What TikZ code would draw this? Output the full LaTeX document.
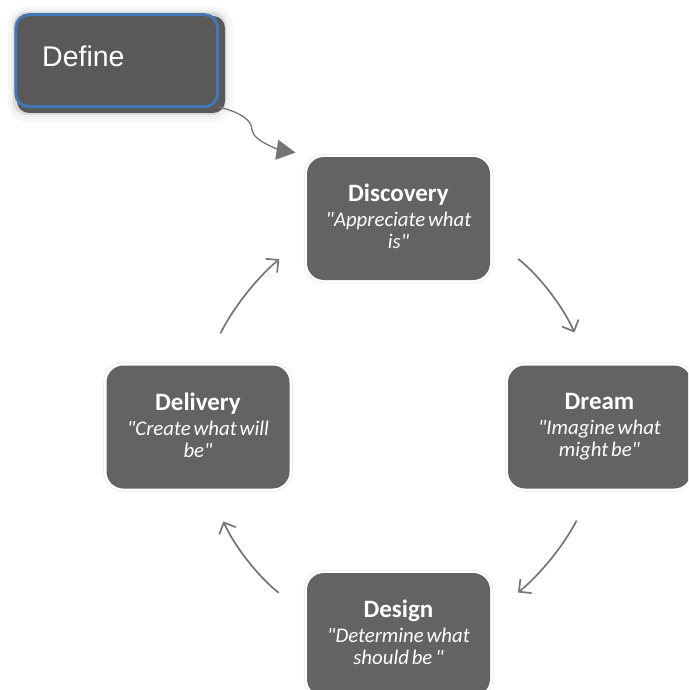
\documentclass[tikz,border=0pt]{standalone}
\usepackage{fontspec}
\newfontfamily\stagefont[WordSpace=0.6]{Carlito}
\newfontfamily\arialfont{Liberation Sans}
\usetikzlibrary{arrows.meta,calc}
\definecolor{boxgray}{HTML}{636363}
\definecolor{defgray}{HTML}{595959}
\definecolor{arrowgray}{HTML}{757575}
\definecolor{defblue}{HTML}{4478B4}
\tikzset{
  x=1pt,y=-1pt,
  stagebox/.style={rectangle,rounded corners=17pt,minimum width=183pt,minimum height=123pt,
    outer sep=0pt,inner sep=0pt,fill=boxgray,text=white,align=center,
    preaction={draw=black!9,line width=6.5pt},preaction={draw=white,line width=5pt},
    font=\stagefont\fontsize{20.8}{22}\selectfont\itshape},
  flow/.style={draw=arrowgray,line width=1.7pt,-{Straight Barb[length=9pt,width=18pt,line width=1.7pt]}},
}
\newcommand{\stagetitle}[1]{{\fontsize{25}{22}\selectfont\upshape\bfseries #1}\\[3pt]}
\begin{document}
\begin{tikzpicture}
\useasboundingbox (0,0) rectangle (688,690);
\clip (0,0) rectangle (688,690);
% define box glow and shadow
\fill[black!3,rounded corners=18pt] (8,7) rectangle (233,122);
\fill[black!6,rounded corners=16pt] (11,10) rectangle (229,118);
\fill[black!14,rounded corners=14pt] (13,12) rectangle (226,115);
\fill[defgray,rounded corners=12pt] (17,16) rectangle (225,113);
\node[rectangle,rounded corners=13pt,minimum width=201.7pt,minimum height=92pt,outer sep=0pt,inner sep=0pt,
  draw=defblue,line width=3pt,fill=defgray] (define) at (116.7,60.7) {};
\node[anchor=west,text=white,font=\arialfont\fontsize{28.5}{30}\selectfont,inner sep=0pt] (definelabel) at (42,56.5) {Define};
% stages
\node[stagebox] (discovery) at (398.5,218.5) {\stagetitle{Discovery}"Appreciate what\\is"\vphantom{g}};
\node[stagebox] (dream) at (599.5,427) {\stagetitle{Dream}"Imagine what\\might be"\vphantom{g}};
\node[stagebox] (design) at (398.5,634.5) {\stagetitle{Design}"Determine what\\should be "\vphantom{g}};
\node[stagebox] (delivery) at (198,427) {\stagetitle{Delivery}"Create what will\\be"\vphantom{g}};
% connectors
\draw[flow,shorten <=36pt,shorten >=36pt] (discovery.-11) to[bend left=14] (dream.100);
\draw[flow,shorten <=36pt,shorten >=36pt] (dream.264) to[bend left=12] (design.12);
\draw[flow,shorten <=36pt,shorten >=36pt] (design.168) to[bend left=14] (delivery.-80);
\draw[flow,shorten <=36pt,shorten >=36pt] (delivery.84) to[bend left=12] (discovery.191);
\draw[draw=arrowgray,line width=1.3pt,-{Triangle[length=19pt,width=20pt,fill=arrowgray]},shorten >=30pt]
  (define.south east) .. controls (240,112) and (252,120) .. (252,130)
  .. controls (253,142) and (285,151) .. (discovery.140);
\end{tikzpicture}
\end{document}
